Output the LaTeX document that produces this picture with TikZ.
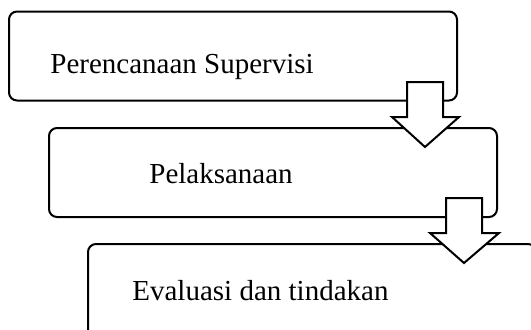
\documentclass[tikz,border=0pt]{standalone}
\usepackage{fontspec}
\setmainfont{Liberation Serif}
\usetikzlibrary{calc}
\begin{document}
\begin{tikzpicture}[x=0.5pt,y=-0.5pt,
  box/.style={draw=black,line width=1pt,rounded corners=4pt,fill=white,minimum width=224pt,minimum height=44.5pt,inner sep=0pt},
  lbl/.style={anchor=base west,inner sep=0pt,font=\fontsize{14.5}{17}\selectfont},
  blockarrow/.style={draw=black,line width=1pt,fill=white,line join=miter}]
\useasboundingbox (0,0) rectangle (531,329);
\clip (0,0) rectangle (531,329);
\node[box] (b1) at (233,56) {};
\node[box] (b2) at (273,172.5) {};
\node[box,minimum height=50pt] (b3) at (312,294) {};
\node[lbl] (t1) at (50,73) {Perencanaan Supervisi};
\node[lbl] (t2) at (149,183) {Pelaksanaan};
\node[lbl] (t3) at (132,300) {Evaluasi dan tindakan};
% block arrow from b1 to b2
\coordinate (a1) at (425,82);
\draw[blockarrow] ($(a1)+(-18,0)$) -- ($(a1)+(18,0)$) -- ($(a1)+(18,35)$) -- ($(a1)+(34,35)$) -- ($(a1)+(0,65)$) -- ($(a1)+(-33,35)$) -- ($(a1)+(-18,35)$) -- cycle;
% block arrow from b2 to b3
\coordinate (a2) at (464,198);
\draw[blockarrow] ($(a2)+(-18,0)$) -- ($(a2)+(18,0)$) -- ($(a2)+(18,35)$) -- ($(a2)+(35,35)$) -- ($(a2)+(0,65)$) -- ($(a2)+(-34,35)$) -- ($(a2)+(-18,35)$) -- cycle;
\end{tikzpicture}
\end{document}
